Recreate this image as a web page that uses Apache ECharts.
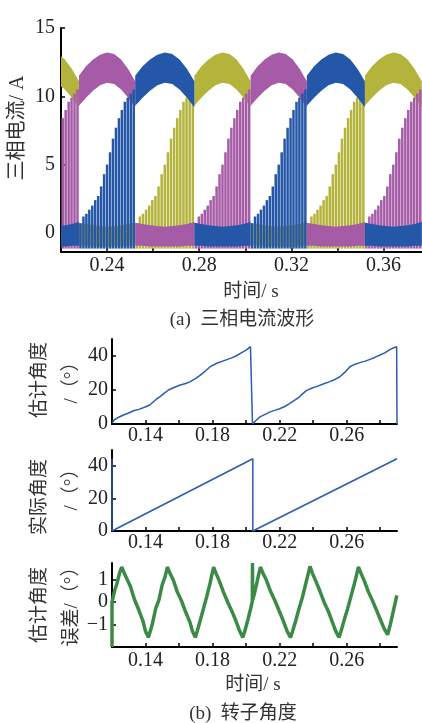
<!DOCTYPE html>
<html>
<head>
<meta charset="utf-8">
<script src="https://cdn.jsdelivr.net/npm/echarts@6.0.0/dist/echarts.min.js"></script>
<style>
html, body { margin: 0; padding: 0; background: #fff; }
#main { width: 422px; height: 723px; }
</style>
</head>
<body>
<div id="main"></div>
<script>
// ---- (a) 三相电流波形 ----
// segment edges (s): each phase stays about one third of a period in one state
var segEdges = [0.2034, 0.2278, 0.2522, 0.2779, 0.3023, 0.3267, 0.3519, 0.3766];
// H = conducting band, L = bottom band, R = chopped rise
var stateYellow = ['H', 'L', 'R', 'H', 'L', 'R', 'H'];
var statePink = ['R', 'H', 'L', 'R', 'H', 'L', 'R'];
var stateBlue = ['L', 'R', 'H', 'L', 'R', 'H', 'L'];
// band outlines over one segment (position as fraction of the segment), A
var bandPos = [0, 0.125, 0.25, 0.375, 0.5, 0.625, 0.75, 0.875, 1];
var highTop = [11.5, 12.2, 12.7, 13.05, 13.2, 13.1, 12.7, 12.0, 11.1];
var highBot = [9.3, 9.9, 10.4, 10.8, 11.0, 10.9, 10.5, 9.9, 9.2];
var lowTop = [0.75, 0.65, 0.55, 0.5, 0.45, 0.5, 0.55, 0.65, 0.8];
var lowBot = [-0.95, -0.95, -1.0, -1.0, -1.0, -1.0, -1.0, -0.95, -0.95];
// chopped rise: spike position (fraction of segment) and peak, A
var spikePos = [0.026, 0.079, 0.132, 0.184, 0.237, 0.289, 0.342, 0.395, 0.447, 0.5,
	0.553, 0.605, 0.658, 0.711, 0.763, 0.816, 0.868, 0.921, 0.974];
var spikeTop = [0.7, 1.2, 1.4, 1.7, 2.0, 2.4, 2.7, 3.4, 4.3, 5.0,
	5.9, 6.9, 7.7, 8.4, 9.0, 9.6, 9.9, 10.2, 10.5];
var spikeBase = -1.15;
var xTicksA = [0.24, 0.26, 0.28, 0.30, 0.32, 0.34, 0.36];
var xLabelsA = [0.24, 0.28, 0.32, 0.36];
var yTicksA = [0, 5, 10, 15];

// ---- (b) 转子角度 ----
var estTime = [0.1200, 0.1215, 0.1240, 0.1268, 0.1300, 0.1328, 0.1360, 0.1398, 0.1425, 0.1447,
	0.1470, 0.1487, 0.1510, 0.1537, 0.1570, 0.1607, 0.1640, 0.1667, 0.1700, 0.1727,
	0.1755, 0.1786, 0.1810, 0.1826, 0.1860, 0.1906, 0.1940, 0.1966, 0.2000, 0.2026, 0.2038,
	0.2040, 0.2060, 0.2080, 0.2110, 0.2140, 0.2170, 0.2200, 0.2230, 0.2259, 0.2290,
	0.2319, 0.2340, 0.2359, 0.2390, 0.2419, 0.2460, 0.2499, 0.2530, 0.2559, 0.2590,
	0.2619, 0.2650, 0.2679, 0.2710, 0.2739, 0.2770, 0.2799, 0.2830, 0.2859, 0.2885, 0.2898, 0.2900];
var estAngle = [0.5, 2.5, 4.0, 5.3, 6.5, 7.8, 8.6, 10.0, 11.2, 13.1,
	15.0, 16.1, 18.0, 20.0, 21.5, 22.9, 23.8, 24.9, 26.8, 28.8,
	31.0, 33.7, 35.0, 35.7, 37.0, 38.6, 40.0, 41.6, 43.5, 45.5, 0,
	0, 2.2, 4.0, 5.5, 7.0, 8.0, 9.0, 10.3, 12.0, 14.0,
	16.0, 18.0, 19.6, 21.0, 22.0, 23.5, 24.9, 26.2, 27.8, 30.5,
	33.7, 35.2, 36.1, 37.0, 38.0, 39.3, 40.6, 42.0, 43.9, 45.0, 45.5, 0];
var realTime = [0.1200, 0.1200, 0.2040, 0.2040, 0.2900];
var realAngle = [44.6, 0, 44.6, 0, 44.6];
var errTime = [0.1200, 0.1200, 0.1215, 0.1230, 0.1245, 0.1258, 0.1270, 0.1285, 0.1310, 0.1335, 0.1360, 0.1385, 0.1400, 0.1417,
	0.1428, 0.1440, 0.1460, 0.1480, 0.1500, 0.1515, 0.1531,
	0.1545, 0.1565, 0.1590, 0.1615, 0.1640, 0.1665, 0.1680, 0.1697,
	0.1708, 0.1725, 0.1745, 0.1765, 0.1785, 0.1795, 0.1806,
	0.1820, 0.1840, 0.1865, 0.1890, 0.1915, 0.1940, 0.1962, 0.1980,
	0.1992, 0.2010, 0.2025, 0.2037, 0.2038, 0.2039, 0.2050, 0.2065, 0.2075, 0.2086,
	0.2100, 0.2120, 0.2145, 0.2170, 0.2195, 0.2220, 0.2245, 0.2265,
	0.2277, 0.2295, 0.2315, 0.2335, 0.2355, 0.2368, 0.2381,
	0.2395, 0.2415, 0.2440, 0.2465, 0.2490, 0.2515, 0.2535, 0.2554,
	0.2566, 0.2585, 0.2605, 0.2625, 0.2645, 0.2658, 0.2670,
	0.2685, 0.2705, 0.2730, 0.2755, 0.2780, 0.2805, 0.2825, 0.2844,
	0.2860, 0.2875, 0.2890, 0.2899];
var errAngle = [-2.0, 0.0, 0.5, 0.85, 1.3, 1.57, 1.35, 1.1, 0.7, 0.1, -0.35, -0.85, -1.3, -1.57,
	-1.3, -1.0, -0.3, 0.1, 0.8, 1.1, 1.57,
	1.3, 1.0, 0.45, 0.05, -0.45, -0.9, -1.3, -1.57,
	-1.3, -0.85, -0.3, 0.25, 0.85, 1.2, 1.57,
	1.3, 0.95, 0.45, 0.0, -0.4, -0.85, -1.3, -1.57,
	-1.3, -0.8, -0.35, 0.05, 1.75, 0.1, 0.4, 0.9, 1.25, 1.57,
	1.3, 1.0, 0.5, 0.1, -0.35, -0.8, -1.3, -1.57,
	-1.3, -0.85, -0.3, 0.2, 0.8, 1.2, 1.6,
	1.3, 0.95, 0.5, 0.0, -0.4, -0.9, -1.3, -1.57,
	-1.3, -0.8, -0.3, 0.25, 0.8, 1.2, 1.57,
	1.3, 0.95, 0.45, 0.05, -0.4, -0.85, -1.2, -1.45,
	-1.0, -0.5, 0.0, 0.3];
var xTicksB = [0.14, 0.16, 0.18, 0.20, 0.22, 0.24, 0.26, 0.28];
var xLabelsB = [0.14, 0.18, 0.22, 0.26];

var myColor = ['#b4b33b', '#a65ba7', '#2557a8'];
var lineBlue = '#2a5cb0';
var errGreen = '#3b8a45';

var numFont = 'Liberation Serif';
var cnFont = "'Liberation Serif', 'Noto Sans CJK SC'";

function pairs(xs, ys) {
	var out = [];
	for (var i = 0; i < xs.length; i++) out.push([xs[i], ys[i]]);
	return out;
}

function phaseItems(states) {
	var bands = [], spikes = [];
	for (var i = 0; i < states.length; i++) {
		var t0 = segEdges[i], t1 = segEdges[i + 1];
		if (states[i] === 'R') {
			for (var k = 0; k < spikePos.length; k++) {
				spikes.push([t0 + spikePos[k] * (t1 - t0), spikeBase, spikeTop[k]]);
			}
		} else {
			bands.push([t0, t1, states[i] === 'H' ? 1 : 0]);
		}
	}
	return { bands: bands, spikes: spikes };
}

function bandRenderer(color) {
	return function(params, api) {
		var t0 = api.value(0), t1 = api.value(1), high = api.value(2) === 1;
		var top = high ? highTop : lowTop, bot = high ? highBot : lowBot;
		var pts = [];
		for (var i = 0; i < bandPos.length; i++) pts.push(api.coord([t0 + bandPos[i] * (t1 - t0), top[i]]));
		for (var j = bandPos.length - 1; j >= 0; j--) pts.push(api.coord([t0 + bandPos[j] * (t1 - t0), bot[j]]));
		return { type: 'polygon', shape: { points: pts }, style: { fill: color } };
	};
}

function spikeRenderer(color) {
	return function(params, api) {
		var a = api.coord([api.value(0), api.value(1)]);
		var b = api.coord([api.value(0), api.value(2)]);
		return { type: 'line', shape: { x1: a[0], y1: a[1], x2: b[0], y2: b[1] }, style: { stroke: color, lineWidth: 2.5 } };
	};
}

function xAxisOf(gi, min, max, ticks, labels, margin) {
	return {
		type: 'value', gridIndex: gi, min: min, max: max,
		axisLine: { onZero: false, lineStyle: { color: '#000', width: 2 } },
		axisTick: { inside: true, length: 4, customValues: ticks, lineStyle: { color: '#000', width: 1.5 } },
		axisLabel: { customValues: labels, margin: margin, fontFamily: numFont, fontSize: 20, color: '#222' },
		splitLine: { show: false }
	};
}

function yAxisOf(gi, min, max, ticks, margin) {
	return {
		type: 'value', gridIndex: gi, min: min, max: max,
		axisLine: { show: true, onZero: false, lineStyle: { color: '#000', width: 2 } },
		axisTick: { show: true, inside: true, length: 4, customValues: ticks, lineStyle: { color: '#000', width: 1.5 } },
		axisLabel: {
			customValues: ticks, margin: margin, fontFamily: numFont, fontSize: 20, color: '#222',
			formatter: function(v) { return String(v).replace('-', '\u2212'); }
		},
		splitLine: { show: false }
	};
}

function label(text, x, y, rotate, size) {
	return {
		type: 'text', x: x, y: y, rotation: rotate ? Math.PI / 2 : 0,
		style: { text: text, fontFamily: cnFont, fontSize: size || 19, fill: '#333', align: 'center', verticalAlign: 'middle' }
	};
}

init();

function init() {
	var chart = echarts.init(document.getElementById('main'), null, { renderer: 'canvas' });
	var series = [];
	[stateYellow, statePink, stateBlue].forEach(function(st, n) {
		var items = phaseItems(st);
		series.push({ type: 'custom', xAxisIndex: 0, yAxisIndex: 0, clip: true, silent: true,
			renderItem: spikeRenderer(myColor[n]), data: items.spikes });
		series.push({ type: 'custom', xAxisIndex: 0, yAxisIndex: 0, clip: true, silent: true,
			renderItem: bandRenderer(myColor[n]), data: items.bands });
	});
	series.push({ type: 'line', xAxisIndex: 1, yAxisIndex: 1, data: pairs(estTime, estAngle), showSymbol: false,
		lineStyle: { color: lineBlue, width: 1.5 }, silent: true });
	series.push({ type: 'line', xAxisIndex: 2, yAxisIndex: 2, data: pairs(realTime, realAngle), showSymbol: false,
		lineStyle: { color: lineBlue, width: 1.5 }, silent: true });
	series.push({ type: 'line', xAxisIndex: 3, yAxisIndex: 3, data: pairs(errTime, errAngle), showSymbol: false,
		lineStyle: { color: errGreen, width: 3.5 }, silent: true, clip: true });

	chart.setOption({
		animation: false,
		grid: [
			{ left: 61, top: 28, width: 361, height: 224 },
			{ left: 112, top: 339, width: 285, height: 85 },
			{ left: 112, top: 450, width: 285, height: 81 },
			{ left: 112, top: 563, width: 285, height: 84 }
		],
		xAxis: [
			xAxisOf(0, 0.22, 0.3767, xTicksA, xLabelsA, 4),
			xAxisOf(1, 0.12, 0.29, xTicksB, xLabelsB, 2),
			xAxisOf(2, 0.12, 0.29, xTicksB, xLabelsB, 2),
			xAxisOf(3, 0.12, 0.29, xTicksB, xLabelsB, 4)
		],
		yAxis: [
			yAxisOf(0, -1.4, 15, yTicksA, 6),
			yAxisOf(1, 0, 50, [0, 20, 40], 4),
			yAxisOf(2, 0, 50, [0, 20, 40], 4),
			yAxisOf(3, -2, 1.75, [-1, 0, 1], 4)
		],
		graphic: [
			label('三相电流/ A', 18, 128, true, 20),
			label('时间/ s', 251, 292, false, 19),
			label('(a)  三相电流波形', 242, 320, false, 19),
			label('估计角度', 40, 380, true),
			label('/（°）', 72, 378, true),
			label('实际角度', 40, 497, true),
			label('/（°）', 72, 485, true),
			label('估计角度', 40, 605, true),
			label('误差/（°）', 72, 602, true),
			label('时间/ s', 253, 685, false, 19),
			label('(b)  转子角度', 243, 714, false, 19)
		],
		series: series
	});
}
</script>
</body>
</html>
